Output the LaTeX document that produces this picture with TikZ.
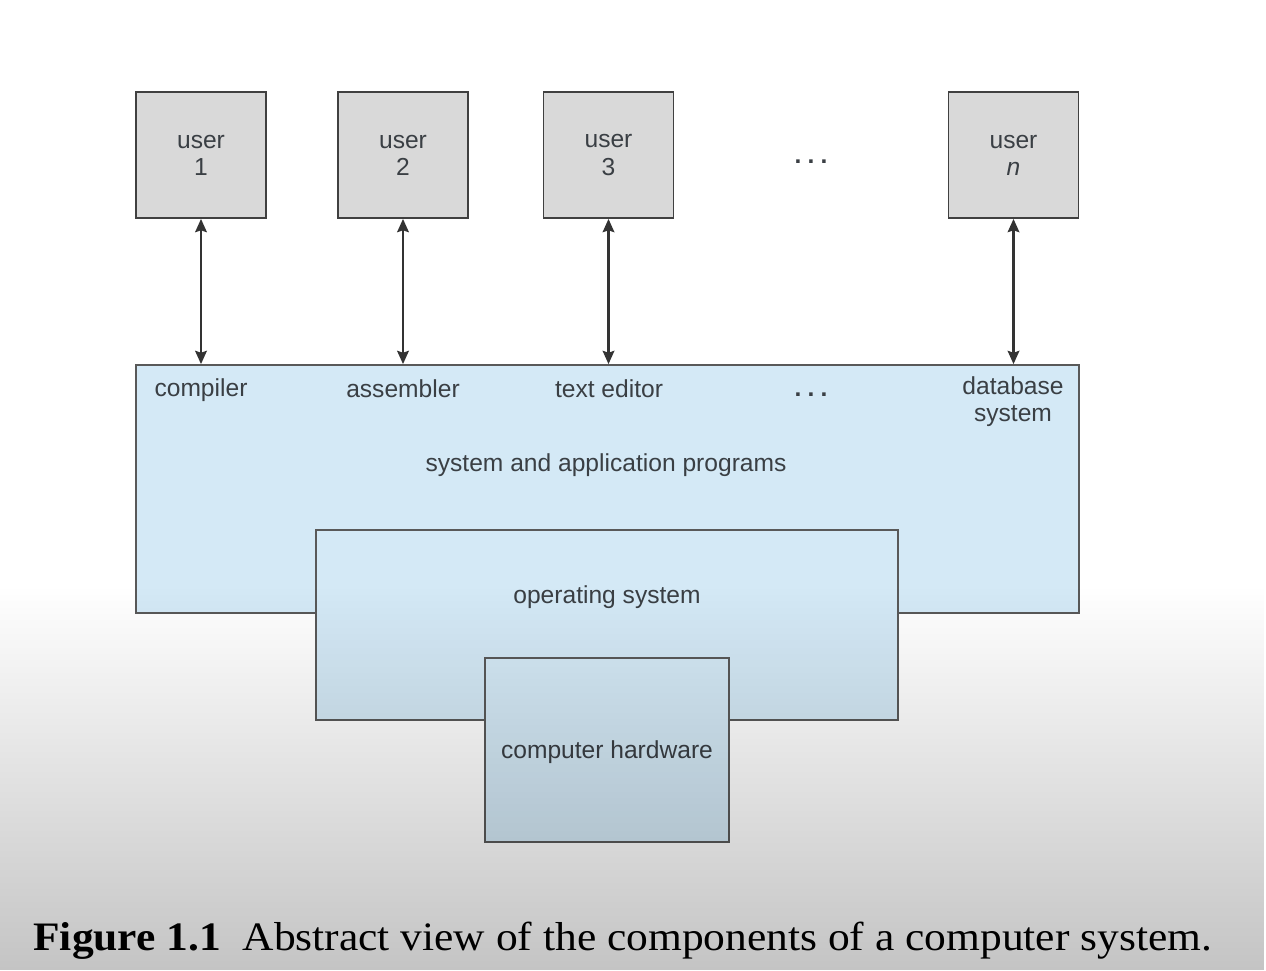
\documentclass[tikz,border=0pt]{standalone}
\usepackage{fontspec}
\usepackage{graphicx}
\setmainfont{Liberation Serif}
\setsansfont{Liberation Sans}
\usetikzlibrary{arrows.meta,fadings}
\definecolor{usergray}{HTML}{D9D9D9}
\definecolor{layerblue}{HTML}{D4E9F6}
\definecolor{inkgray}{HTML}{3A3F44}
\begin{document}
\begin{tikzpicture}[x=0.02cm,y=-0.02cm,
  lbl/.style={font=\sffamily\fontsize{14}{15.5}\selectfont,text=inkgray,align=center,inner sep=0pt},
  userbox/.style={lbl,draw=black!75,line width=1pt,fill=usergray,
    minimum width=2.6cm,minimum height=2.52cm},
  layer/.style={draw=black!65,line width=1pt,fill=layerblue,inner sep=0pt},
  link/.style={{Stealth[length=7.5pt,width=6.5pt,inset=1pt]}-{Stealth[length=7.5pt,width=6.5pt,inset=1pt]},
    line width=1.6pt,draw=black!80}]
\useasboundingbox (0,0) rectangle (1266,970);
\fill[white] (0,0) rectangle (1266,970);

% Users
\node[userbox] (u1) at (201,155) {user\\1};
\node[userbox] (u2) at (403,155) {user\\2};
\node[userbox] (u3) at (608.5,155) {user\\3};
\node[userbox] (un) at (1013.5,155) {user\\\textit{n}};
\node[lbl,font=\sffamily\bfseries\fontsize{14}{15}\selectfont] (udots) at (811,162) {.\hspace{3.5pt}.\hspace{3.5pt}.};

% Layers
\node[layer,minimum width=18.86cm,minimum height=4.96cm] (app) at (607.5,489) {};
\node[layer,minimum width=11.64cm,minimum height=3.8cm] (os) at (607,625) {};
\node[layer,minimum width=4.88cm,minimum height=3.68cm] (hw) at (607,750) {};

% Programs
\node[lbl] (compiler) at (201,390) {compiler};
\node[lbl] (assembler) at (403,389) {assembler};
\node[lbl] (editor) at (609,389) {text editor};
\node[lbl,font=\sffamily\bfseries\fontsize{14}{15}\selectfont] (pdots) at (811,395) {.\hspace{3.5pt}.\hspace{3.5pt}.};
\node[lbl] (dbms) at (1013,402) {database\\system};
\node[lbl] (apptext) at (606,465) {system and application programs};
\node[lbl] (ostext) at (607,597) {operating system};
\node[lbl] (hwtext) at (607,752) {computer hardware};

% Interaction arrows
\foreach \u in {u1,u2,u3,un}
  \draw[link] (\u.south) -- (\u.south |- app.north);

% Shading of the lower part
\fill[black,opacity=0.23,path fading=north] (0,585) rectangle (1266,970);

% Caption
\node[anchor=base west,inner sep=0pt,font=\fontsize{23}{26}\selectfont] (caption) at (33,950)
  {\resizebox{23.58cm}{\height}{\textbf{Figure 1.1}\enspace Abstract view of the components of a computer system.}};
\end{tikzpicture}
\end{document}
